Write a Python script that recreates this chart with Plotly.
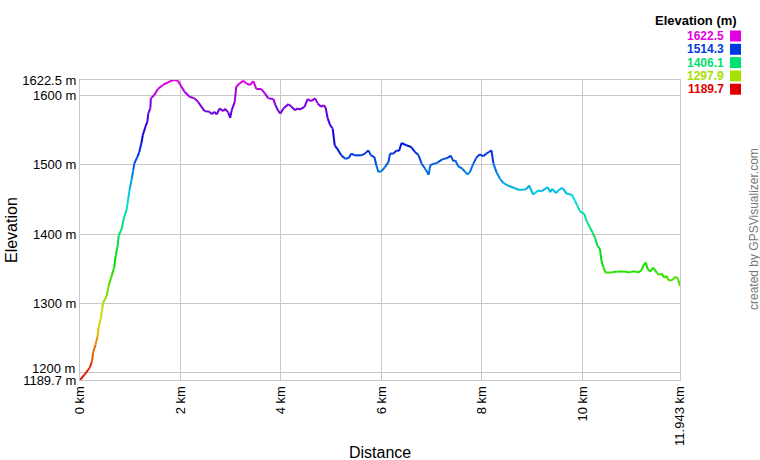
import colorsys
import plotly.graph_objects as go

# elevation profile
dist_km = [0.00, 0.09, 0.19, 0.24, 0.26, 0.31, 0.35, 0.37, 0.41, 0.44, 0.46, 0.53, 0.57, 0.63,
           0.68, 0.71, 0.75, 0.77, 0.83, 0.87, 0.93, 0.96, 0.99, 1.03, 1.06, 1.08, 1.14, 1.18,
           1.22, 1.25, 1.30, 1.34, 1.36, 1.40, 1.41, 1.48, 1.55, 1.65, 1.75, 1.85, 1.95, 2.02,
           2.08, 2.18, 2.28, 2.35, 2.42, 2.48, 2.58, 2.62, 2.68, 2.72, 2.78, 2.85, 2.89, 2.95,
           2.99, 3.02, 3.08, 3.11, 3.18, 3.25, 3.31, 3.38, 3.45, 3.51, 3.61, 3.68, 3.75, 3.85,
           3.89, 3.95, 3.99, 4.05, 4.15, 4.21, 4.28, 4.33, 4.38, 4.47, 4.53, 4.60, 4.68, 4.73,
           4.80, 4.85, 4.89, 4.93, 4.98, 5.03, 5.07, 5.12, 5.20, 5.28, 5.35, 5.40, 5.47, 5.60,
           5.67, 5.74, 5.79, 5.86, 5.90, 5.94, 6.00, 6.07, 6.14, 6.17, 6.24, 6.30, 6.35, 6.40,
           6.50, 6.59, 6.67, 6.74, 6.80, 6.87, 6.94, 6.97, 7.04, 7.10, 7.13, 7.20, 7.26, 7.33,
           7.38, 7.43, 7.47, 7.53, 7.61, 7.67, 7.71, 7.76, 7.83, 7.89, 7.96, 8.03, 8.09, 8.14,
           8.19, 8.23, 8.29, 8.36, 8.43, 8.53, 8.63, 8.73, 8.83, 8.89, 8.94, 9.02, 9.12, 9.19,
           9.26, 9.31, 9.36, 9.40, 9.47, 9.52, 9.60, 9.69, 9.79, 9.85, 9.90, 9.95, 10.04, 10.08,
           10.15, 10.20, 10.25, 10.30, 10.35, 10.38, 10.42, 10.46, 10.58, 10.68, 10.85, 10.93,
           10.98, 11.08, 11.11, 11.18, 11.21, 11.26, 11.30, 11.35, 11.41, 11.48, 11.52, 11.58,
           11.63, 11.68, 11.71, 11.79, 11.84, 11.90, 11.943]
elev_m = [1189.7, 1197.4, 1207.0, 1216.7, 1228.8, 1241.0, 1252.9, 1264.9, 1277.0, 1291.6, 1301.0,
          1310.9, 1325.4, 1339.9, 1352.0, 1368.9, 1383.4, 1397.9, 1407.6, 1422.0, 1436.6, 1451.0,
          1465.5, 1480.0, 1492.0, 1501.8, 1511.3, 1518.6, 1530.8, 1542.8, 1554.8, 1562.0, 1574.2,
          1581.5, 1596.0, 1600.8, 1609.5, 1615.3, 1619.2, 1622.5, 1621.5, 1612.8, 1605.5, 1598.3,
          1596.0, 1591.0, 1583.8, 1577.6, 1576.6, 1573.2, 1576.6, 1572.8, 1581.5, 1577.6, 1581.0,
          1575.7, 1567.9, 1579.0, 1591.0, 1612.8, 1617.7, 1621.5, 1617.7, 1615.3, 1621.0, 1609.5,
          1609.5, 1603.2, 1596.0, 1595.0, 1586.3, 1577.6, 1574.2, 1581.5, 1587.7, 1583.8, 1579.0,
          1581.5, 1580.0, 1583.8, 1595.0, 1592.0, 1596.0, 1588.7, 1583.8, 1586.3, 1582.4, 1567.0,
          1557.3, 1552.5, 1528.3, 1523.5, 1513.8, 1509.0, 1509.9, 1516.3, 1513.8, 1513.8, 1516.3,
          1521.0, 1513.8, 1511.3, 1499.3, 1489.6, 1491.0, 1496.9, 1504.1, 1516.3, 1516.3, 1521.0,
          1520.0, 1531.6, 1528.3, 1525.9, 1518.6, 1513.8, 1501.8, 1494.5, 1485.8, 1499.3, 1501.8,
          1502.6, 1504.1, 1507.6, 1509.0, 1510.5, 1513.4, 1505.5, 1506.6, 1497.9, 1494.5, 1489.6,
          1486.3, 1489.6, 1501.8, 1510.5, 1515.3, 1512.4, 1516.3, 1518.6, 1521.0, 1501.8, 1489.6,
          1480.0, 1473.7, 1469.9, 1467.0, 1464.1, 1464.1, 1465.5, 1470.3, 1457.3, 1463.1, 1462.1,
          1465.5, 1467.9, 1460.6, 1465.5, 1459.2, 1463.1, 1467.0, 1458.3, 1456.9, 1448.6, 1441.3,
          1433.1, 1429.3, 1419.6, 1409.9, 1402.6, 1395.4, 1383.4, 1378.6, 1361.6, 1351.9, 1344.7,
          1344.7, 1346.1, 1346.1, 1344.7, 1346.1, 1346.1, 1344.7, 1348.1, 1354.4, 1359.2, 1349.6,
          1346.1, 1351.9, 1344.7, 1341.3, 1343.2, 1337.4, 1339.9, 1333.6, 1333.6, 1338.4, 1336.5,
          1325.4]

legend_vals = ["1622.5", "1514.3", "1406.1", "1297.9", "1189.7"]
y_ticks = [1189.7, 1200, 1300, 1400, 1500, 1600, 1622.5]
y_labels = ["1189.7 m", "", "1300 m", "1400 m", "1500 m", "1600 m", "1622.5 m"]
x_ticks = [0, 2, 4, 6, 8, 10, 11.943]
x_labels = ["0 km", "2 km", "4 km", "6 km", "8 km", "10 km", "11.943 km"]

e_min, e_max = min(elev_m), max(elev_m)


def elev_color(e):
    t = (e - e_min) / (e_max - e_min)
    r, g, b = colorsys.hsv_to_rgb(t * 300 / 360, 1.0, 0.88)
    return "rgb(%d,%d,%d)" % (r * 255, g * 255, b * 255)


# group the segments by colour bin so the line gets a gradient
nbins = 60
groups = {}
for i in range(len(dist_km) - 1):
    mid = (elev_m[i] + elev_m[i + 1]) / 2
    k = int(round((mid - e_min) / (e_max - e_min) * nbins))
    gx, gy = groups.setdefault(k, ([], []))
    gx += [dist_km[i], dist_km[i + 1], None]
    gy += [elev_m[i], elev_m[i + 1], None]

fig = go.Figure()
for k, (gx, gy) in sorted(groups.items()):
    e = e_min + k / nbins * (e_max - e_min)
    fig.add_trace(go.Scatter(x=gx, y=gy, mode="lines", showlegend=False,
                             line=dict(color=elev_color(e), width=2),
                             hoverinfo="skip"))

font = "Arial, Liberation Sans, sans-serif"
grid = "#C8C8C8"

fig.update_xaxes(range=[0, 11.943], tickvals=x_ticks, ticktext=x_labels, tickangle=-90,
                 showgrid=True, gridcolor=grid, zeroline=False, showline=True, mirror=True,
                 linecolor=grid, ticks="", tickfont=dict(size=13, color="#000"))
fig.update_yaxes(range=[1189.7, 1622.5], tickvals=y_ticks, ticktext=y_labels,
                 showgrid=True, gridcolor=grid, zeroline=False, showline=True, mirror=True,
                 linecolor=grid, ticks="", tickfont=dict(size=13, color="#000"))

ann = [
    # 1200 m label sits a little above its gridline, as in the original
    dict(x=0, y=1200, xref="paper", yref="y", text="1200 m", xanchor="right",
         yanchor="middle", xshift=-3, yshift=4, showarrow=False,
         font=dict(size=13, color="#000")),
    dict(x=(11 - 80) / 600, y=(380 - 230) / 300, xref="paper", yref="paper", text="Elevation",
         textangle=-90, xanchor="center", yanchor="middle",
         showarrow=False, font=dict(size=16, color="#000")),
    dict(x=(380 - 80) / 600, y=(380 - 452) / 300, xref="paper", yref="paper", text="Distance",
         yanchor="middle", showarrow=False, font=dict(size=16, color="#000")),
    dict(x=(739 - 80) / 600, y=(380 - 20) / 300, xref="paper", yref="paper",
         text="<b>Elevation (m)</b>", xanchor="right", yanchor="middle",
         showarrow=False, font=dict(size=13, color="#000")),
    dict(x=(754 - 80) / 600, y=(380 - 229) / 300, xref="paper", yref="paper",
         text="created by GPSVisualizer.com", textangle=-90, xanchor="center",
         yanchor="middle", showarrow=False, font=dict(size=12, color="#777")),
]
shapes = []
rows = [36, 49.3, 62.6, 75.9, 89.2]
for val, py in zip(legend_vals, rows):
    col = elev_color(float(val))
    ann.append(dict(x=(726 - 80) / 600, y=(380 - py) / 300, xref="paper", yref="paper",
                    text="<b>%s</b>" % val, xanchor="right", yanchor="middle",
                    showarrow=False, font=dict(size=12, color=col)))
    shapes.append(dict(type="rect", xref="paper", yref="paper",
                       x0=(730 - 80) / 600, x1=(741 - 80) / 600,
                       y0=(380 - py - 5.5) / 300, y1=(380 - py + 5.5) / 300,
                       fillcolor=col, line=dict(width=0)))

fig.update_layout(width=760, height=460, margin=dict(l=80, r=80, t=80, b=80),
                  plot_bgcolor="white", paper_bgcolor="white",
                  font=dict(family=font), annotations=ann, shapes=shapes)
fig.write_html("out.html", config={"displayModeBar": False},
               post_script="document.body.style.margin='0';")
